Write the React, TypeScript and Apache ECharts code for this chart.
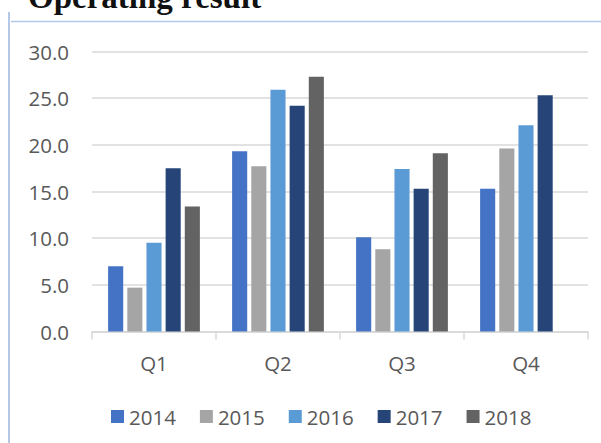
import React, { useEffect, useRef } from "react";
import * as echarts from "echarts";

const categories = ["Q1", "Q2", "Q3", "Q4"];
const seriesNames = ["2014", "2015", "2016", "2017", "2018"];
const s2014 = [7.0, 19.3, 10.1, 15.3];
const s2015 = [4.7, 17.7, 8.8, 19.6];
const s2016 = [9.5, 25.9, 17.4, 22.1];
const s2017 = [17.5, 24.2, 15.3, 25.3];
const s2018: (number | null)[] = [13.4, 27.3, 19.1, null];
const seriesValues = [s2014, s2015, s2016, s2017, s2018];
const colors = ["#4472c4", "#a5a5a5", "#5b9bd5", "#264478", "#636363"];
const titleText = "Operating result";

export default function App() {
  const ref = useRef<HTMLDivElement>(null);
  useEffect(() => {
    document.body.style.margin = "0";
    const chart = echarts.init(ref.current!, null, { renderer: "svg" });
    const font = "'Open Sans', sans-serif";
    chart.setOption({
      animation: false,
      backgroundColor: "#ffffff",
      grid: { left: 92, right: 13, top: 51.5, bottom: 111.5, containLabel: false },
      legend: {
        data: seriesNames,
        left: 106,
        top: 401,
        icon: "rect",
        itemWidth: 13,
        itemHeight: 13,
        itemGap: 24,
        textStyle: { color: "#595959", fontSize: 20.5, fontFamily: font },
      },
      xAxis: {
        type: "category",
        data: categories,
        axisLine: { lineStyle: { color: "#d9d9d9", width: 1.5 } },
        axisTick: { show: true, length: 8, lineStyle: { color: "#d9d9d9", width: 1.5 } },
        axisLabel: { color: "#595959", fontSize: 20.5, fontFamily: font, margin: 21 },
      },
      yAxis: {
        type: "value",
        min: 0,
        max: 30,
        interval: 5,
        axisLine: { show: false },
        axisTick: { show: false },
        splitLine: { lineStyle: { color: "#d9d9d9", width: 1.5 } },
        axisLabel: {
          color: "#595959",
          fontSize: 20.5,
          fontFamily: font,
          margin: 23,
          formatter: (v: number) => v.toFixed(1),
        },
      },
      series: seriesNames.map((name, i) => ({
        name,
        type: "bar",
        data: seriesValues[i],
        barGap: "27%",
        barCategoryGap: "26%",
        itemStyle: { color: colors[i] },
      })),
      graphic: [
        {
          type: "line",
          shape: { x1: 9, y1: 12, x2: 9, y2: 443 },
          style: { stroke: "#b4c7e7", lineWidth: 2 },
        },
        {
          type: "line",
          shape: { x1: 11, y1: 21.5, x2: 601, y2: 21.5 },
          style: { stroke: "#b4c7e7", lineWidth: 1.5 },
        },
        {
          type: "text",
          x: 28,
          y: 13,
          style: {
            text: titleText,
            fill: "#111111",
            font: "bold 33px 'Liberation Serif', serif",
            verticalAlign: "bottom",
            align: "left",
          },
        },
      ],
    });
    return () => chart.dispose();
  }, []);
  return <div ref={ref} style={{ width: 601, height: 443 }} />;
}
